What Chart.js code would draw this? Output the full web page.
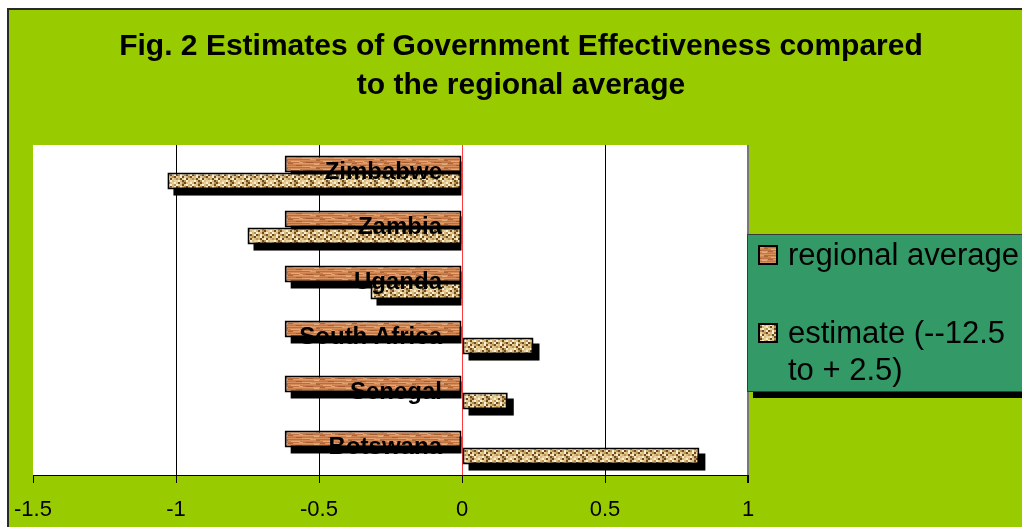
<!DOCTYPE html>
<html>
<head>
<meta charset="utf-8">
<title>Government Effectiveness</title>
<script src="https://cdn.jsdelivr.net/npm/chart.js@4.4.1/dist/chart.umd.min.js"></script>
<style>
  html, body { margin: 0; padding: 0; background: #fff; overflow: hidden; }
  canvas { display: block; }
</style>
</head>
<body>
<canvas id="bar-chart" width="1022" height="527"></canvas>
<script>
// Government effectiveness per country against the regional average
const countries = ['Zimbabwe', 'Zambia', 'Uganda', 'South Africa', 'Senegal', 'Botswana'];
const regionalAverage = [-0.62, -0.62, -0.62, -0.62, -0.62, -0.62];
const estimate = [-1.03, -0.75, -0.32, 0.25, 0.16, 0.83];
const xTicks = [-1.5, -1, -0.5, 0, 0.5, 1];
const seriesNames = ['regional average', 'estimate (--12.5 to + 2.5)'];
const legendLines = [['regional average'], ['estimate (--12.5', 'to + 2.5)']];
const titleLines = ['Fig. 2 Estimates of Government Effectiveness compared', 'to the regional average'];

const FONT = 'Arial, "Liberation Sans", sans-serif';

const canvas = document.getElementById('bar-chart');
const mainCtx = canvas.getContext('2d');

function makePattern(w, h, paint) {
  const tile = document.createElement('canvas');
  tile.width = w;
  tile.height = h;
  paint(tile.getContext('2d'));
  return mainCtx.createPattern(tile, 'repeat');
}

// wood-grain fill for the regional average bars
const woodRows = ['#d68a56', '#c97e4b', '#bf7343', '#dd9b68', '#cf8452', '#c27746', '#d9925f', '#b96e3f'];
const woodStreaks = [
  [3, 1, 9, '#e6a876'], [18, 2, 7, '#a25d30'], [26, 4, 5, '#e8ae7c'],
  [8, 5, 6, '#a86136'], [14, 6, 10, '#e4a472'], [28, 0, 4, '#ad6638'],
  [22, 7, 6, '#e09c6a'], [0, 3, 5, '#ab6538'], [11, 2, 4, '#e2a06e']
];
const woodPattern = makePattern(32, 8, g => {
  woodRows.forEach((c, y) => { g.fillStyle = c; g.fillRect(0, y, 32, 1); });
  woodStreaks.forEach(([x, y, w, c]) => { g.fillStyle = c; g.fillRect(x, y, w, 1); });
});

// speckled beige fill for the estimate bars
const checkColors = { a: '#ead19a', b: '#fbf0d0', c: '#b98f50', d: '#6c4a26', e: '#d8b97c' };
const checkCells = [
  'abedcbea',
  'edacdeab',
  'baedabec',
  'dcbecdeb',
  'aebdaecd',
  'cedabdae'
];
const checkPattern = makePattern(16, 12, g => {
  checkCells.forEach((row, r) => {
    [...row].forEach((k, col) => {
      g.fillStyle = checkColors[k];
      g.fillRect(col * 2, r * 2, 2, 2);
    });
  });
});

const decorPlugin = {
  id: 'decor',
  beforeDraw(chart) {
    const { ctx, chartArea: a, width, height } = chart;
    ctx.save();
    ctx.fillStyle = '#ffffff';
    ctx.fillRect(0, 0, width, height);
    ctx.fillStyle = '#99cc00';
    ctx.fillRect(8, 9, width - 8, height - 9);
    ctx.fillStyle = '#2a2a2a';
    ctx.fillRect(7, 8, width - 7, 2);
    ctx.fillRect(7, 8, 2, height - 8);
    ctx.fillStyle = '#ffffff';
    ctx.fillRect(a.left, a.top, a.right - a.left, a.bottom - a.top);

    ctx.fillStyle = '#000';
    ctx.font = 'bold 30px ' + FONT;
    ctx.textAlign = 'center';
    ctx.textBaseline = 'alphabetic';
    titleLines.forEach((t, i) => ctx.fillText(t, 521, 55 + i * 39));
    ctx.restore();
  },
  // solid black drop shadows under every bar
  beforeDatasetsDraw(chart) {
    const ctx = chart.ctx;
    ctx.save();
    ctx.fillStyle = '#000';
    chart.data.datasets.forEach((ds, i) => {
      chart.getDatasetMeta(i).data.forEach((bar, j) => {
        const { x, y, base, height } = bar.getProps(['x', 'y', 'base', 'height'], true);
        const top = y - height / 2 + 6;
        const left = Math.min(x, base) + 6;
        const right = ds.data[j] < 0 ? base : Math.max(x, base) + 6;
        ctx.fillRect(left, top, right - left, height);
      });
    });
    ctx.restore();
  },
  afterDraw(chart) {
    const ctx = chart.ctx;
    const box = { x: 747, y: 234, w: 300, h: 157 };
    ctx.save();
    ctx.fillStyle = '#000';
    ctx.fillRect(box.x + 6, box.y + 6, box.w, box.h + 1);
    ctx.fillStyle = '#339966';
    ctx.fillRect(box.x, box.y, box.w, box.h);
    ctx.strokeStyle = '#3a3a3a';
    ctx.lineWidth = 1;
    ctx.strokeRect(box.x + 0.5, box.y + 0.5, box.w, box.h);

    ctx.font = '31px ' + FONT;
    ctx.textAlign = 'left';
    ctx.textBaseline = 'alphabetic';
    legendLines.forEach((lines, i) => {
      const top = box.y + 11 + i * 78;
      ctx.fillStyle = chart.data.datasets[i].backgroundColor;
      ctx.fillRect(758, top, 20, 20);
      ctx.strokeStyle = '#000';
      ctx.lineWidth = 2;
      ctx.strokeRect(759, top + 1, 18, 18);
      ctx.fillStyle = '#000';
      lines.forEach((t, k) => ctx.fillText(t, 788, top + 20 + k * 37));
    });
    ctx.restore();
  }
};

new Chart(canvas, {
  type: 'bar',
  data: {
    labels: countries,
    datasets: [
      {
        label: seriesNames[0],
        data: regionalAverage,
        backgroundColor: woodPattern,
        borderColor: '#000',
        borderWidth: 2,
        borderSkipped: false
      },
      {
        label: seriesNames[1],
        data: estimate,
        backgroundColor: checkPattern,
        borderColor: '#000',
        borderWidth: 2,
        borderSkipped: false
      }
    ]
  },
  options: {
    indexAxis: 'y',
    responsive: false,
    animation: false,
    devicePixelRatio: 1,
    layout: { padding: { left: 33, right: 274, top: 145, bottom: 0 } },
    datasets: { bar: { categoryPercentage: 0.62, barPercentage: 1 } },
    plugins: {
      legend: { display: false },
      title: { display: false },
      tooltip: { enabled: false }
    },
    scales: {
      x: {
        min: -1.5,
        max: 1,
        afterBuildTicks: s => { s.ticks = xTicks.map(v => ({ value: v })); },
        afterFit: s => { s.height = 52; },
        grid: {
          color: c => {
            const v = c.tick && c.tick.value;
            if (v === 0) return '#ff3b3b';
            if (v === -1.5) return 'rgba(0,0,0,0)';
            if (v === 1) return '#777777';
            return '#000000';
          },
          lineWidth: c => (c.tick && c.tick.value === 1 ? 2 : 1),
          tickColor: '#000',
          tickLength: 8
        },
        border: { color: '#000', width: 1 },
        ticks: {
          color: '#000',
          font: { size: 22, family: FONT },
          padding: 14,
          maxRotation: 0,
          autoSkip: false,
          callback: v => String(v)
        }
      },
      y: {
        // category names sit just left of the zero line
        position: { x: -0.07 },
        grid: { display: false, drawTicks: false },
        border: { display: false },
        ticks: {
          z: 1,
          color: '#000',
          font: { size: 24, weight: 'bold', family: FONT },
          autoSkip: false
        }
      }
    }
  },
  plugins: [decorPlugin]
});
</script>
</body>
</html>
